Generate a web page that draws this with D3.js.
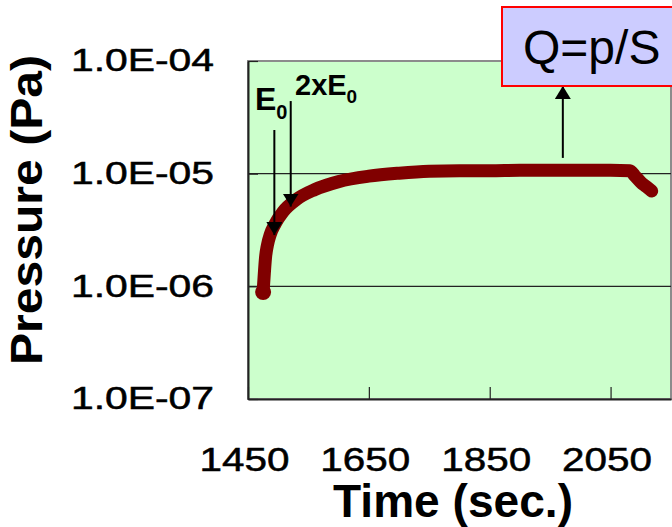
<!DOCTYPE html>
<html>
<head>
<meta charset="UTF-8" />
<title>Pressure vs time</title>
<script src="https://d3js.org/d3.v7.min.js"></script>
<style>
  body { margin: 0; background: #fff; }
  svg text { font-family: "Liberation Sans", Arial, sans-serif; fill: #000; }
</style>
</head>
<body>
<div id="chart"></div>
<script>
const times = [1475, 1477, 1479, 1482, 1487, 1495, 1508, 1530, 1560, 1600, 1650, 1700,
  1750, 1800, 1850, 1900, 1950, 2000, 2050, 2082, 2090, 2100, 2110, 2118];
const pressures = [8.9e-7, 1.3e-6, 1.8e-6, 2.3e-6, 2.9e-6, 3.6e-6, 4.6e-6, 5.9e-6, 7.2e-6, 8.5e-6, 9.5e-6, 1.01e-5,
  1.05e-5, 1.06e-5, 1.06e-5, 1.07e-5, 1.07e-5, 1.07e-5, 1.07e-5, 1.06e-5, 9.6e-6, 8.4e-6, 7.6e-6, 7.0e-6];

const xTicks = [1450, 1650, 1850, 2050];
const yTicks = [1e-4, 1e-5, 1e-6, 1e-7];
const yTickLabels = ["1.0E-04", "1.0E-05", "1.0E-06", "1.0E-07"];
const gridValues = [1e-5, 1e-6];

// arrows: [time, from pressure, to pressure]
const arrowTimes = [1493.6, 1520.7, 1971];
const arrowFrom = [2.44e-5, 4.41e-5, 1.38e-5];
const arrowTo = [2.85e-6, 5.1e-6, 6.0e-5];

const W = 672, H = 527;
const svg = d3.select("#chart").append("svg").attr("width", W).attr("height", H);

const x = d3.scaleLinear().domain([1450, 2150]).range([248, 671]);
const y = d3.scaleLog().domain([1e-7, 1e-4]).range([399, 61]);

// plot area
svg.append("rect")
  .attr("x", x.range()[0]).attr("y", y.range()[1])
  .attr("width", x.range()[1] - x.range()[0])
  .attr("height", y.range()[0] - y.range()[1])
  .attr("fill", "#ccffcc")
  .attr("stroke", "#8c8c8c")
  .attr("stroke-width", 2);

// grid lines
svg.selectAll(".grid").data(gridValues).enter().append("line")
  .attr("x1", x.range()[0]).attr("x2", x.range()[1])
  .attr("y1", d => y(d)).attr("y2", d => y(d))
  .attr("stroke", "#222").attr("stroke-width", 1.2);

// axes
const xAxis = svg.append("g")
  .attr("transform", `translate(0,${y.range()[0]})`)
  .call(d3.axisBottom(x).tickValues(xTicks).tickSizeInner(-12).tickSizeOuter(0).tickPadding(49).tickFormat(d3.format("d")));
xAxis.select(".domain").attr("stroke", "#222").attr("stroke-width", 2);
xAxis.selectAll(".tick line").attr("stroke", "#222").attr("stroke-width", 1.2);
xAxis.selectAll(".tick text")
  .attr("font-size", 32.6)
  .attr("font-family", null)
  .attr("dx", -4)
  .attr("stroke", "#000").attr("stroke-width", 0.5)
  .attr("textLength", 90)
  .attr("lengthAdjust", "spacingAndGlyphs");

const yAxis = svg.append("g")
  .attr("transform", `translate(${x.range()[0]},0)`)
  .call(d3.axisLeft(y).tickValues(yTicks).tickSizeInner(-10).tickSizeOuter(0).tickPadding(34)
    .tickFormat((d, i) => yTickLabels[i]));
yAxis.select(".domain").attr("stroke", "#222").attr("stroke-width", 2);
yAxis.selectAll(".tick line").attr("stroke", "#222").attr("stroke-width", 1.2);
yAxis.selectAll(".tick text")
  .attr("font-size", 31)
  .attr("font-family", null)
  .attr("stroke", "#000").attr("stroke-width", 0.5)
  .attr("textLength", 143)
  .attr("lengthAdjust", "spacingAndGlyphs");

// axis titles
svg.append("text")
  .attr("x", 453).attr("y", 517)
  .attr("text-anchor", "middle")
  .attr("font-size", 47).attr("font-weight", "bold")
  .attr("textLength", 240).attr("lengthAdjust", "spacingAndGlyphs")
  .text("Time (sec.)");

svg.append("text")
  .attr("transform", "translate(42,210) rotate(-90)")
  .attr("text-anchor", "middle")
  .attr("font-size", 44).attr("font-weight", "bold")
  .attr("textLength", 310).attr("lengthAdjust", "spacingAndGlyphs")
  .text("Pressure (Pa)");

// curve
const pts = times.map((t, i) => [t, pressures[i]]);
const line = d3.line().x(d => x(d[0])).y(d => y(d[1])).curve(d3.curveMonotoneX);
svg.append("path")
  .datum(pts)
  .attr("d", line)
  .attr("fill", "none")
  .attr("stroke", "#800000")
  .attr("stroke-width", 13)
  .attr("stroke-linecap", "round")
  .attr("stroke-linejoin", "round");
svg.append("circle")
  .attr("cx", x(times[0])).attr("cy", y(pressures[0]))
  .attr("r", 8).attr("fill", "#800000");

// arrows
const defs = svg.append("defs");
defs.append("marker")
  .attr("id", "head")
  .attr("markerUnits", "userSpaceOnUse")
  .attr("markerWidth", 13).attr("markerHeight", 16)
  .attr("viewBox", "0 0 13 16")
  .attr("refX", 13).attr("refY", 8)
  .attr("orient", "auto")
  .append("path").attr("d", "M0,0 L13,8 L0,16 Z").attr("fill", "#000");

svg.selectAll(".arrow").data(arrowTimes).enter().append("line")
  .attr("x1", d => x(d)).attr("x2", d => x(d))
  .attr("y1", (d, i) => y(arrowFrom[i]))
  .attr("y2", (d, i) => y(arrowTo[i]))
  .attr("stroke", "#000").attr("stroke-width", 2)
  .attr("marker-end", "url(#head)");

// E0 labels
const e0 = svg.append("text").attr("x", 255).attr("y", 110)
  .attr("font-size", 32).attr("font-weight", "bold");
e0.append("tspan").text("E");
e0.append("tspan").attr("dy", 9).attr("font-size", 20).text("0");

const e2 = svg.append("text").attr("x", 295).attr("y", 95)
  .attr("font-size", 29).attr("font-weight", "bold");
e2.append("tspan").text("2xE");
e2.append("tspan").attr("dy", 8).attr("font-size", 19).text("0");

// Q=p/S box
svg.append("rect")
  .attr("x", 502).attr("y", 7).attr("width", 200).attr("height", 79)
  .attr("fill", "#ccccff").attr("stroke", "#ff0000").attr("stroke-width", 2);
svg.append("text")
  .attr("x", 523).attr("y", 64)
  .attr("font-size", 48)
  .text("Q=p/S");
</script>
</body>
</html>
